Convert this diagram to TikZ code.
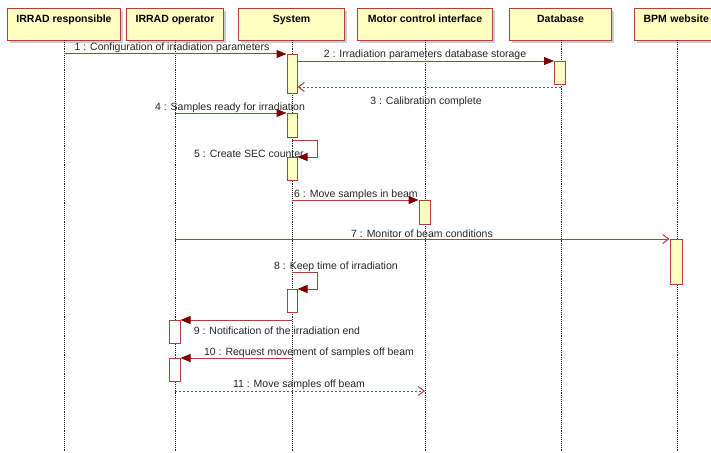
\documentclass[tikz,border=0pt]{standalone}
\usepackage{fontspec}
\setmainfont{Liberation Sans}
\usetikzlibrary{arrows.meta}
\definecolor{hdrfill}{RGB}{255,255,194}
\definecolor{hdrdraw}{RGB}{176,64,64}
\definecolor{msgc}{RGB}{176,64,64}
\definecolor{tipc}{RGB}{128,0,0}
\definecolor{txt}{RGB}{40,40,40}
\definecolor{shad}{RGB}{205,205,205}
\tikzset{
  hdr/.style={draw=hdrdraw, fill=hdrfill, line width=1pt, minimum height=32pt, inner sep=0pt, text height=7.5pt, text depth=11pt, anchor=north west, font=\fontsize{10.5}{12}\selectfont\bfseries, text=black},
  life/.style={densely dotted, line width=0.9pt, black!85},
  act/.style={draw=hdrdraw, fill=hdrfill, line width=1pt, minimum width=10pt, inner sep=0pt, anchor=north},
  actw/.style={act, fill=white},
  msg/.style={draw=msgc, line width=1pt, -{Triangle[length=10pt,width=8pt,fill=tipc,color=tipc]}},
  ret/.style={draw=msgc, line width=1pt, dash pattern=on 2pt off 2pt, -{Straight Barb[length=6pt,width=9pt,color=msgc]}},
  async/.style={draw=msgc, line width=1pt, -{Straight Barb[length=6pt,width=9pt,color=msgc]}},
  lbl/.style={font=\fontsize{10.5}{12}\selectfont, text=txt, inner sep=0pt, yshift=-1.5pt},
}
\begin{document}
\begin{tikzpicture}[x=1pt,y=-1pt]
\useasboundingbox (0,0) rectangle (711,452);
\fill[white] (0,0) rectangle (711,452);
% shadows
\foreach \a/\b in {7/120,126/223,238/344,357/492,509/611,634/720}{
  \fill[shad] (\a+3,11) rectangle (\b+3,43);
}
% headers
\node[hdr, minimum width=113pt] (resp) at (7,8) {IRRAD responsible};
\node[hdr, minimum width=97pt] (oper) at (126,8) {IRRAD operator};
\node[hdr, minimum width=106pt] (sys) at (238,8) {System};
\node[hdr, minimum width=135pt] (motor) at (357,8) {Motor control interface};
\node[hdr, minimum width=102pt] (db) at (509,8) {Database};
\node[hdr, minimum width=86pt, text width=80pt, align=left] (bpm) at (634,8) {\hspace*{6pt}BPM website};
% lifelines
\coordinate (respL) at (64,40);
\coordinate (operL) at (175,40);
\coordinate (sysL) at (292,40);
\coordinate (motorL) at (425,40);
\coordinate (dbL) at (561,40);
\coordinate (bpmL) at (677,40);
\foreach \c in {respL,operL,sysL,motorL,dbL,bpmL}{
  \draw[life] (\c) -- (\c |- 0,452);
}
% activations
\node[act, minimum height=39pt] (a1) at (292,54) {};
\node[act, minimum height=23pt, minimum width=11pt] (adb) at (560,61) {};
\node[act, minimum height=24pt] (a2) at (292,113) {};
\node[act, minimum height=23pt] (a3) at (292,157) {};
\node[act, minimum height=24pt, minimum width=11pt] (am) at (424.5,200) {};
\node[act, minimum height=45pt, minimum width=12pt] (ab) at (676,239) {};
\node[actw, minimum height=23pt] (a4) at (292,289) {};
\node[actw, minimum height=23pt, minimum width=11pt] (o1) at (174.5,320) {};
\node[actw, minimum height=23pt, minimum width=11pt] (o2) at (174.5,358) {};
% messages
\draw[msg] (respL |- a1.north) -- (a1.north west);
\node[lbl] (m1) at (172,46) {1 : Configuration of irradiation parameters};
\draw[msg] (a1.east |- adb.north) -- (adb.north west);
\node[lbl] (m2) at (425,53) {2 : Irradiation parameters database storage};
\coordinate (r3) at (561,87);
\draw[ret] (r3) -- (a1.east |- r3);
\node[lbl] (m3) at (426,100) {3 : Calibration complete};
\draw[msg] (operL |- a2.north) -- (a2.north west);
\node[lbl] (m4) at (230,106) {4 : Samples ready for irradiation};
\coordinate (s5) at (292,140);
\draw[msg] (s5) -- ++(25,0) |- (a3.north east);
\node[lbl] (m5) at (249,152) {5 : Create SEC counter};
\draw[msg] (sysL |- am.north) -- (am.north west);
\node[lbl] (m6) at (356,193) {6 : Move samples in beam};
\draw[async] (operL |- ab.north) -- (ab.north west);
\node[lbl] (m7) at (422,232) {7 : Monitor of beam conditions};
\coordinate (s8) at (292,272);
\draw[msg] (s8) -- ++(25,0) |- (a4.north east);
\node[lbl] (m8) at (336,265) {8 : Keep time of irradiation};
\draw[msg] (sysL |- o1.north) -- (o1.north east);
\node[lbl] (m9) at (277,329) {9 : Notification of the irradiation end};
\draw[msg] (sysL |- o2.north) -- (o2.north east);
\node[lbl] (m10) at (309,351) {10 : Request movement of samples off beam};
\coordinate (s11) at (175,391);
\draw[ret] (s11) -- (motorL |- s11);
\node[lbl] (m11) at (299,383) {11 : Move samples off beam};
\end{tikzpicture}
\end{document}
